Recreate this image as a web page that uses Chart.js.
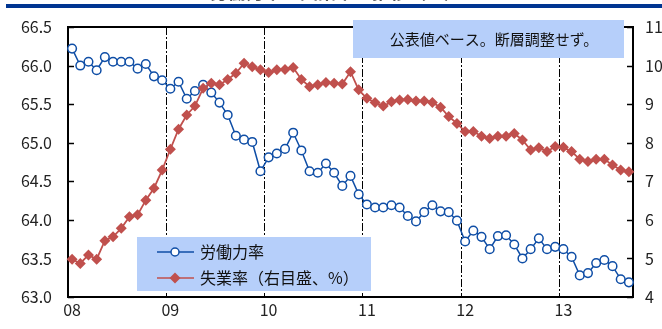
<!DOCTYPE html>
<html>
<head>
<meta charset="utf-8">
<script src="https://cdn.jsdelivr.net/npm/chart.js@4"></script>
<style>
  body { margin: 0; background: #fff; }
  #wrap { width: 662px; height: 329px; position: relative; }
</style>
</head>
<body>
<div id="wrap"><canvas id="chart" width="662" height="329"></canvas></div>
<script>
// categories: monthly, Jan 2008 - Sep 2013
const years = ['08', '09', '10', '11', '12', '13'];
const monthsPerYear = [12, 12, 12, 12, 12, 9];
const months = [];
years.forEach(function (y, i) {
    for (let m = 1; m <= monthsPerYear[i]; m++) months.push(y + '/' + m);
});

// labour force participation rate (left axis, %)
const participation = [
    66.22, 66.00, 66.05, 65.94, 66.11, 66.05, 66.05, 66.05, 65.96, 66.02, 65.86, 65.81,
    65.70, 65.79, 65.57, 65.67, 65.75, 65.65, 65.52, 65.36, 65.09, 65.04, 65.01, 64.63,
    64.81, 64.86, 64.92, 65.13, 64.90, 64.63, 64.61, 64.73, 64.61, 64.44, 64.57, 64.33,
    64.20, 64.16, 64.16, 64.19, 64.16, 64.05, 63.98, 64.10, 64.19, 64.11, 64.10, 63.99,
    63.72, 63.86, 63.78, 63.62, 63.79, 63.80, 63.68, 63.50, 63.62, 63.76, 63.62, 63.65,
    63.62, 63.52, 63.28, 63.31, 63.44, 63.48, 63.40, 63.23, 63.19
];

// unemployment rate (right axis, %)
const unemployment = [
    4.98, 4.87, 5.09, 4.98, 5.46, 5.56, 5.78, 6.08, 6.13, 6.51, 6.82, 7.29,
    7.83, 8.35, 8.72, 8.95, 9.41, 9.54, 9.50, 9.64, 9.80, 10.06, 9.97, 9.89,
    9.82, 9.89, 9.90, 9.95, 9.64, 9.45, 9.50, 9.56, 9.54, 9.52, 9.84, 9.37,
    9.15, 9.04, 8.95, 9.06, 9.11, 9.12, 9.08, 9.08, 9.04, 8.92, 8.68, 8.50,
    8.29, 8.29, 8.17, 8.11, 8.17, 8.17, 8.24, 8.07, 7.81, 7.87, 7.77, 7.90,
    7.88, 7.77, 7.57, 7.51, 7.57, 7.57, 7.42, 7.29, 7.25
];

const leftTicks = [63.0, 63.5, 64.0, 64.5, 65.0, 65.5, 66.0, 66.5];
const rightTicks = [4, 5, 6, 7, 8, 9, 10, 11];

const FONT = '"Noto Sans CJK JP", "Noto Sans", sans-serif';
const BLUE = '#0f4ea6';
const RED = '#c0504d';
const BOX = '#b6cffa';

const decor = {
    id: 'decor',
    beforeDatasetsDraw: function (chart) {
        const ctx = chart.ctx;
        const a = chart.chartArea;
        ctx.save();
        // top frame line
        ctx.strokeStyle = '#000';
        ctx.lineWidth = 2;
        ctx.beginPath();
        ctx.moveTo(a.left, a.top);
        ctx.lineTo(a.right, a.top);
        ctx.stroke();
        // inward tick marks on both value axes
        ctx.lineWidth = 1.5;
        const yl = chart.scales.y, yr = chart.scales.y1;
        yl.ticks.forEach(function (t) {
            const p = Math.round(yl.getPixelForValue(t.value)) + 0.5;
            ctx.beginPath(); ctx.moveTo(a.left, p); ctx.lineTo(a.left + 6, p); ctx.stroke();
        });
        yr.ticks.forEach(function (t) {
            const p = Math.round(yr.getPixelForValue(t.value)) + 0.5;
            ctx.beginPath(); ctx.moveTo(a.right - 6, p); ctx.lineTo(a.right, p); ctx.stroke();
        });
        ctx.restore();
    },
    afterDraw: function (chart) {
        const ctx = chart.ctx;
        ctx.save();
        // header band + clipped title
        ctx.fillStyle = '#555';
        ctx.font = 'bold 18px ' + FONT;
        ctx.textAlign = 'center';
        ctx.textBaseline = 'alphabetic';
        ctx.fillText('労働力率と失業率の推移（％）', 336, -1);
        ctx.fillStyle = '#003591';
        ctx.fillRect(6, 4, 656, 4);

        // note box
        ctx.fillStyle = BOX;
        ctx.fillRect(353, 20, 271, 38);
        ctx.fillStyle = '#111';
        ctx.font = '15px ' + FONT;
        ctx.textBaseline = 'middle';
        ctx.fillText('公表値ベース。断層調整せず。', 494, 39);

        // legend box
        ctx.fillStyle = BOX;
        ctx.fillRect(137, 237, 234, 54);
        ctx.lineWidth = 1.5;
        ctx.strokeStyle = BLUE;
        ctx.beginPath(); ctx.moveTo(157, 252); ctx.lineTo(194, 252); ctx.stroke();
        ctx.fillStyle = '#fff';
        ctx.beginPath(); ctx.arc(175, 252, 4, 0, Math.PI * 2); ctx.fill(); ctx.stroke();
        ctx.strokeStyle = RED;
        ctx.beginPath(); ctx.moveTo(157, 278); ctx.lineTo(194, 278); ctx.stroke();
        ctx.fillStyle = RED;
        ctx.beginPath();
        ctx.moveTo(175, 272.5); ctx.lineTo(180.5, 278); ctx.lineTo(175, 283.5); ctx.lineTo(169.5, 278);
        ctx.closePath(); ctx.fill();
        ctx.fillStyle = '#111';
        ctx.font = '16px ' + FONT;
        ctx.textAlign = 'left';
        ctx.fillText('労働力率', 200, 252);
        ctx.fillText('失業率（右目盛、%）', 200, 278);
        ctx.restore();
    }
};

new Chart(document.getElementById('chart').getContext('2d'), {
    type: 'line',
    data: {
        labels: months,
        datasets: [{
            label: '労働力率',
            data: participation,
            yAxisID: 'y',
            borderColor: BLUE,
            borderWidth: 1.5,
            pointStyle: 'circle',
            pointRadius: 4.3,
            pointBorderWidth: 1.5,
            pointBackgroundColor: '#fff',
            pointBorderColor: BLUE,
            tension: 0,
            order: 2
        }, {
            label: '失業率（右目盛、%）',
            data: unemployment,
            yAxisID: 'y1',
            borderColor: RED,
            borderWidth: 1.8,
            pointStyle: 'rectRot',
            pointRadius: 5.5,
            pointBorderWidth: 0,
            pointBackgroundColor: RED,
            pointBorderColor: RED,
            tension: 0,
            order: 1
        }]
    },
    options: {
        responsive: false,
        animation: false,
        events: [],
        layout: { padding: { top: 27, left: 0, right: 0, bottom: 0 } },
        plugins: { legend: { display: false }, tooltip: { enabled: false } },
        scales: {
            x: {
                offset: true,
                grid: {
                    offset: true,
                    drawTicks: false,
                    lineWidth: 1,
                    color: function (c) {
                        return (c.index > 0 && c.index % 12 === 0) ? '#000' : 'rgba(0,0,0,0)';
                    }
                },
                border: { color: '#000', width: 2, dash: [8, 2, 2, 2] },
                ticks: {
                    autoSkip: false,
                    maxRotation: 0,
                    padding: 3,
                    color: '#222',
                    font: { family: FONT, size: 16 },
                    callback: function (v, i) {
                        return i % 12 === 0 ? years[i / 12] : '';
                    }
                },
                afterFit: function (s) { s.height = 32; }
            },
            y: {
                position: 'left',
                min: leftTicks[0],
                max: leftTicks[leftTicks.length - 1],
                grid: { display: false, drawTicks: false },
                border: { color: '#000', width: 2 },
                ticks: {
                    stepSize: 0.5,
                    padding: 16,
                    color: '#222',
                    font: { family: FONT, size: 16 },
                    callback: function (v) { return v.toFixed(1); }
                },
                afterFit: function (s) { s.width = 68; }
            },
            y1: {
                position: 'right',
                min: rightTicks[0],
                max: rightTicks[rightTicks.length - 1],
                grid: { display: false, drawTicks: false },
                border: { color: '#000', width: 2 },
                ticks: {
                    stepSize: 1,
                    padding: 12,
                    color: '#222',
                    font: { family: FONT, size: 16 }
                },
                afterFit: function (s) { s.width = 29; }
            }
        }
    },
    plugins: [decor]
});
</script>
</body>
</html>
